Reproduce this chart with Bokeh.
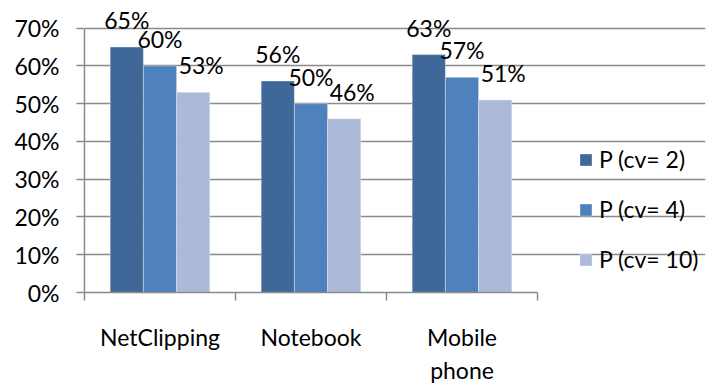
from bokeh.plotting import figure
from bokeh.models import ColumnDataSource, FixedTicker, NumeralTickFormatter, Range1d, Legend, LegendItem
from bokeh.core.properties import value
from bokeh.embed import file_html
from bokeh.resources import INLINE

categories = ["NetClipping", "Notebook", "Mobile\nphone"]
series_names = ["P (cv= 2)", "P (cv= 4)", "P (cv= 10)"]
p_cv2 = [0.65, 0.56, 0.63]
p_cv4 = [0.60, 0.50, 0.57]
p_cv10 = [0.53, 0.46, 0.51]
y_ticks = [0, 0.1, 0.2, 0.3, 0.4, 0.5, 0.6, 0.7]

colors = ["#3F6898", "#4F81BD", "#AABAD8"]
FONT = "Lato"
FS = "23px"

n = len(categories)
x_end = n * 621 / 453  # extra room on the right for the legend

p = figure(width=709, height=387, output_backend="svg", toolbar_location=None,
           x_range=Range1d(0, x_end), y_range=Range1d(0, 0.76),
           min_border_left=84, min_border_right=4, min_border_top=5, min_border_bottom=90)
p.outline_line_color = None
p.xgrid.visible = False
p.ygrid.ticker = FixedTicker(ticks=y_ticks)
p.ygrid.grid_line_color = "#8A8A8A"
p.ygrid.grid_line_width = 1.5
p.ygrid.bounds = (0, n)

yax = p.yaxis[0]
yax.ticker = FixedTicker(ticks=y_ticks)
yax.formatter = NumeralTickFormatter(format="0%")
yax.bounds = (0, 0.7)
yax.axis_line_color = "#8A8A8A"
yax.axis_line_width = 1.5
yax.major_tick_line_color = "#8A8A8A"
yax.major_tick_line_width = 1.5
yax.major_tick_in = 0
yax.major_tick_out = 8
yax.minor_tick_line_color = None
yax.major_label_text_font = FONT
yax.major_label_text_font_size = FS
yax.major_label_text_color = "black"
yax.major_label_standoff = 17

centers = [i + 0.5 for i in range(n)]
xax = p.xaxis[0]
xax.ticker = FixedTicker(ticks=centers, minor_ticks=list(range(n + 1)))
xax.bounds = (0, n)
xax.major_label_overrides = {c: lab for c, lab in zip(centers, categories)}
xax.axis_line_color = "#8A8A8A"
xax.axis_line_width = 1.5
xax.major_tick_line_color = None
xax.minor_tick_line_color = "#8A8A8A"
xax.minor_tick_line_width = 1.5
xax.minor_tick_in = 0
xax.minor_tick_out = 8
xax.major_label_text_font = FONT
xax.major_label_text_font_size = FS
xax.major_label_text_color = "black"
xax.major_label_standoff = 22

bw = 0.22
offsets = [-bw, 0, bw]
label_dx = [0, 0, 8]
items = []
for vals, name, col, off, dx in zip([p_cv2, p_cv4, p_cv10], series_names, colors, offsets, label_dx):
    src = ColumnDataSource(dict(x=[c + off for c in centers], top=vals,
                                txt=[f"{round(v*100)}%" for v in vals]))
    r = p.vbar(x="x", top="top", width=bw, source=src, fill_color=col,
               line_color="white", line_alpha=0.35, line_width=1)
    p.text(x="x", y="top", text="txt", source=src, text_align="center",
           text_baseline="alphabetic", y_offset=-27, x_offset=dx,
           text_font=value(FONT), text_font_size=FS, text_color="black")
    items.append(LegendItem(label=name, renderers=[r]))

legend = Legend(items=items, location=(494, 19), border_line_color=None,
                background_fill_alpha=0, padding=0, spacing=22,
                glyph_width=15, glyph_height=15, label_height=20, label_standoff=6,
                label_text_font=FONT, label_text_font_size=FS, label_text_color="black")
p.add_layout(legend, "center")

open("out.html", "w").write(file_html(p, INLINE))
